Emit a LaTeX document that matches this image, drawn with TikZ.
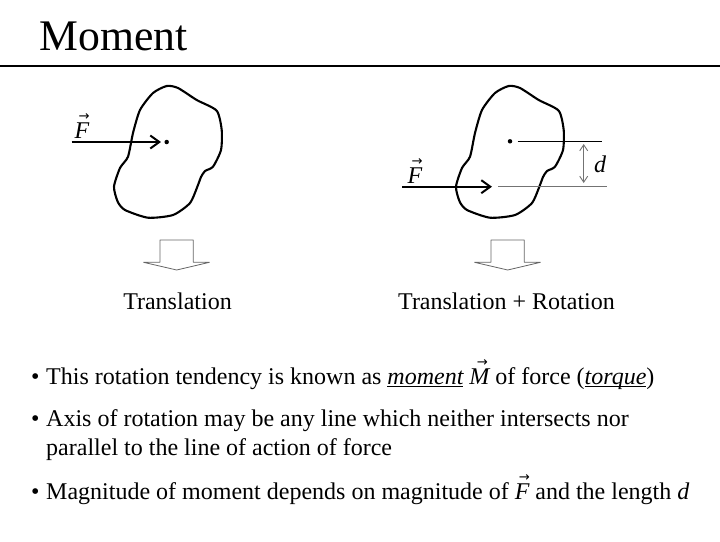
\documentclass[tikz,border=0pt]{standalone}
\usepackage{fontspec}
\usepackage{graphicx}
\setmainfont{Liberation Serif}
\newfontfamily\arrowfont{DejaVu Sans}
\usetikzlibrary{
    arrows.meta,
    positioning
}
\newsavebox{\labelbox}
\newcommand{\vecit}[1]{\sbox{\labelbox}{\itshape #1}\rlap{\hspace{\dimexpr.65\wd\labelbox-5.5pt\relax}\raisebox{.73em}{\resizebox{11pt}{!}{\arrowfont →}}}\usebox{\labelbox}}
\newcommand{\ulit}[1]{\sbox{\labelbox}{\itshape #1}\rlap{\rule[-3pt]{\wd\labelbox}{1pt}}\usebox{\labelbox}}
\newcommand{\bodyoutline}{
    plot[smooth cycle,tension=.4] coordinates {
        (166.7,86) (178,88) (196.7,100) (216.7,110.7) (221.7,130) (221,150)
        (213,166.7) (205,171) (201,177) (198,185) (190,203) (173,215) (148,217.7)
        (125,210) (117.7,201.7) (114,186.7) (120,168) (128,156.7) (133,133)
        (140,110) (153,93)
    }
}
\tikzset{
    % Colors
    guide color/.style={black!55},
    %
    % Nodes and points
    invisible point/.style={circle,inner sep=0pt,outer sep=0pt,minimum size=0pt},
    point/.style={invisible point,fill=black,minimum size=4.5pt},
    %
    % Text
    caption/.style={anchor=base,inner sep=0pt,font=\fontsize{24}{28}\selectfont},
    bullet text/.style={anchor=base west,inner sep=0pt,font=\fontsize{24}{28}\selectfont},
    %
    % Arrows
    arrow tip/.tip={Straight Barb[length=9pt,width=13pt,line width=2pt]},
    force arr/.style={-{arrow tip},line width=2.2pt},
    distance marker/.style={{Straight Barb[length=6pt,width=8pt]}-{Straight Barb[length=6pt,width=8pt]},guide color,line width=.9pt},
    body line/.style={line width=2.1pt,line join=round},
    guide line/.style={line width=.9pt},
    hollow arrow/.style={draw=black!60,line width=.8pt,fill=white,line join=bevel}
}
\begin{document}
\begin{tikzpicture}[x=1pt,y=-1pt]
    \useasboundingbox (0,0) rectangle (720,541);
    % Title
    \node[anchor=base west,inner sep=0pt,font=\fontsize{43.7}{50}\selectfont] (title) at (39.5,50) {Moment};
    \coordinate (rule l) at (0,65.5);
    \coordinate (rule r) at (720,65.5);
    \draw[line width=2pt] (rule l) -- (rule r);
    %
    % Both bodies
    \draw[body line] \bodyoutline;
    \draw[body line,xshift=342pt] \bodyoutline;
    \foreach \x in {0,331}{
        \draw[hollow arrow,xshift=\x pt] (160,240) -- (193.3,240) -- (193.3,262.3) -- (209.5,262.3) -- (176.7,270) -- (143.5,262.3) -- (160,262.3) -- cycle;
    }
    %
    % Translation
    \node[point] (dot a) at (166.7,142) {};
    \coordinate (force a start) at (71.5,142);
    \coordinate (force a end) at (161,142);
    \draw[force arr] (force a start) -- (force a end);
    \node[caption] (force a) at (82,138) {\vecit{F}};
    \node[caption] (translation) at (177.5,309) {Translation};
    %
    % Translation + rotation
    \node[point] (dot b) at (510,141.3) {};
    \coordinate (top start) at (517.5,141.3);
    \coordinate (top end) at (602,141.3);
    \draw[guide line] (top start) -- (top end);
    \coordinate (low start) at (498.3,186.7);
    \coordinate (low end) at (606.7,186.7);
    \draw[guide line,guide color] (low start) -- (low end);
    \coordinate (gap top) at (583.7,144);
    \coordinate (gap low) at (583.7,183);
    \draw[distance marker] (gap top) -- (gap low);
    \node[caption] (gap label) at (600,172) {\itshape d};
    \coordinate (force b start) at (402,186.7);
    \coordinate (force b end) at (492,186.7);
    \draw[force arr] (force b start) -- (force b end);
    \node[caption] (force b) at (415,183) {\vecit{F}};
    \node[caption] (translation rotation) at (506.5,309) {Translation + Rotation};
    %
    % Bullets
    \node[bullet text] (bullet a) at (31,384) {•};
    \node[bullet text] (line a) at (46,384) {This rotation tendency is known as \ulit{moment} \vecit{M} of force (\ulit{torque})};
    \node[bullet text] (bullet b) at (31,426) {•};
    \node[bullet text] (line b) at (46,426) {Axis of rotation may be any line which neither intersects nor};
    \node[bullet text] (line c) at (46,455) {parallel to the line of action of force};
    \node[bullet text] (bullet c) at (31,499) {•};
    \node[bullet text] (line d) at (46,499) {Magnitude of moment depends on magnitude of \vecit{F} and the length {\itshape d}};
\end{tikzpicture}
\end{document}
